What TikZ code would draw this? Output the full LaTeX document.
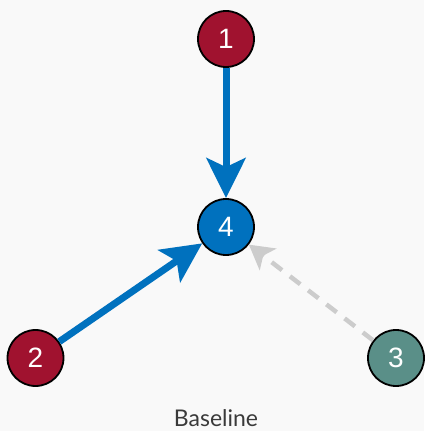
\documentclass[tikz,border=0pt]{standalone}
\usepackage{fontspec}
\setsansfont{Liberation Sans}
\newfontfamily\capfont{Lato}
\usetikzlibrary{arrows.meta}
\definecolor{crim}{HTML}{A0122F}
\definecolor{azure}{HTML}{0071BE}
\definecolor{sage}{HTML}{5A8F88}
\definecolor{fog}{HTML}{CCCCCC}
\definecolor{paper}{HTML}{F9F9F9}
\definecolor{ink}{HTML}{3A3A3A}
\tikzset{
  vert/.style  ={circle,draw=black,line width=1.8pt,minimum size=56pt,inner sep=0pt,
                 font=\sffamily\fontsize{28}{28}\selectfont,text=white},
  strong/.style={-{Stealth[length=40pt,width=39pt,inset=9pt]},line width=7pt,azure},
  weak/.style  ={-{Stealth[length=24pt,width=27pt,inset=6pt]},line width=4.5pt,fog,
                 dash pattern=on 13pt off 10pt},
}
\begin{document}
\begin{tikzpicture}[x=1pt,y=1pt]
  \fill[paper] (0,0) rectangle (424,431);
  \node[vert,fill=crim]  (n1) at (226,392) {1};
  \node[vert,fill=azure] (n4) at (226,204) {4};
  \node[vert,fill=crim]  (n2) at (35.5,73) {2};
  \node[vert,fill=sage]  (n3) at (396,73)  {3};
  \draw[strong] (n1) -- (n4);
  \draw[strong] (n2) -- (n4);
  \draw[weak]   (n3) -- (n4);
  \node[font=\capfont\fontsize{23}{24}\selectfont,text=ink] (cap) at (216,13) {Baseline};
\end{tikzpicture}
\end{document}
